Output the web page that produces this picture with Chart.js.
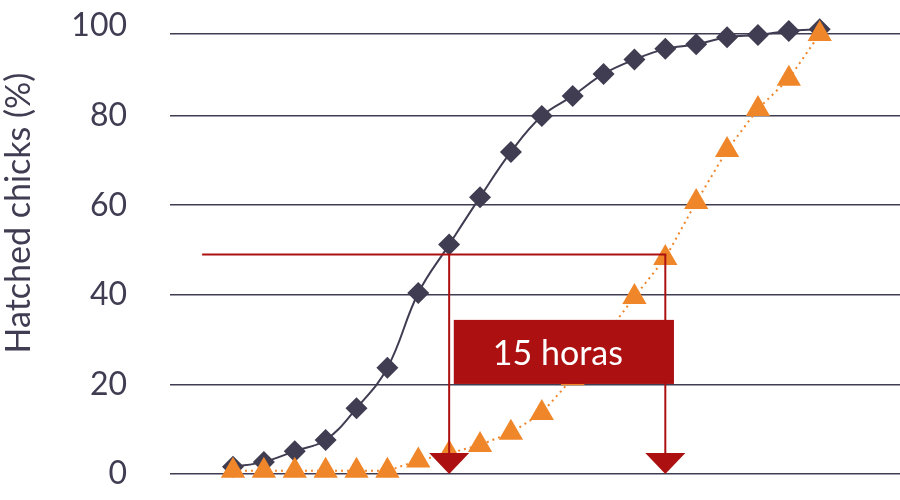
<!DOCTYPE html>
<html>
<head>
<meta charset="utf-8">
<script src="https://cdn.jsdelivr.net/npm/chart.js@4/dist/chart.umd.min.js"></script>
<style>
  html, body { margin: 0; padding: 0; background: #ffffff; }
  #wrap { width: 900px; height: 500px; }
</style>
</head>
<body>
<div id="wrap"><canvas id="c" width="900" height="500"></canvas></div>
<script>
// ---- data ----
const sampleIndex = [0,1,2,3,4,5,6,7,8,9,10,11,12,13,14,15,16,17,18,19];
const seriesDiamond = [1.6,2.7,5.1,7.6,14.7,23.7,40.4,51.2,61.8,71.9,79.9,84.4,89.3,92.5,94.9,95.9,97.5,98.0,98.9,99.3];
const seriesTriangle = [0.7,0.7,0.7,0.7,0.7,0.7,3.0,4.6,6.5,9.2,13.6,21.4,30.4,39.5,48.2,60.7,72.3,81.5,88.2,98.2];
const yTickValues = [0,20,40,60,80,100];
const topGridValue = 98.2;
const yTitle = 'Hatched chicks (%)';
const boxLabel = '15 horas';
const halfLevel = 49;          // red horizontal guide
const guideStartIdx = -1;      // where the red guide starts
const markerIdx = [7, 14];     // red vertical guides
const boxRange = { x0: 7.15, x1: 14.28, y0: 20.1, y1: 34.4 };

const DARK = '#403c52';
const ORANGE = '#f0862a';
const RED = '#ad1010';
const FONT = 'Lato, "Open Sans", sans-serif';

const annotations = {
  id: 'annotations',
  afterDatasetsDraw(chart) {
    const { ctx, scales: { x, y } } = chart;
    const yH = y.getPixelForValue(halfLevel);
    const y0 = y.getPixelForValue(0);
    const xs = markerIdx.map(v => x.getPixelForValue(v));
    const xStart = x.getPixelForValue(guideStartIdx);
    ctx.save();
    ctx.strokeStyle = RED;
    ctx.fillStyle = RED;
    ctx.lineWidth = 2;
    ctx.beginPath();
    ctx.moveTo(xStart, yH);
    ctx.lineTo(xs[1] + 1, yH);
    ctx.stroke();
    xs.forEach(px => {
      ctx.beginPath();
      ctx.moveTo(px, yH);
      ctx.lineTo(px, y0 - 18);
      ctx.stroke();
      ctx.beginPath();
      ctx.moveTo(px - 20, y0 - 21);
      ctx.lineTo(px + 20, y0 - 21);
      ctx.lineTo(px, y0);
      ctx.closePath();
      ctx.fill();
    });
    const bx0 = x.getPixelForValue(boxRange.x0);
    const bx1 = x.getPixelForValue(boxRange.x1);
    const by0 = y.getPixelForValue(boxRange.y1);
    const by1 = y.getPixelForValue(boxRange.y0);
    ctx.fillRect(bx0, by0, bx1 - bx0, by1 - by0);
    ctx.fillStyle = '#ffffff';
    ctx.font = '34px ' + FONT;
    ctx.textAlign = 'center';
    ctx.textBaseline = 'middle';
    ctx.fillText(boxLabel, (bx0 + bx1) / 2 - 6, (by0 + by1) / 2 + 2);
    ctx.restore();
  }
};

const sideTitle = {
  id: 'sideTitle',
  afterDraw(chart) {
    const { ctx } = chart;
    ctx.save();
    ctx.translate(19, 213);
    ctx.rotate(-Math.PI / 2);
    ctx.fillStyle = DARK;
    ctx.font = '34px ' + FONT;
    ctx.textAlign = 'center';
    ctx.textBaseline = 'middle';
    ctx.fillText(yTitle, 0, 0);
    ctx.restore();
  }
};

new Chart(document.getElementById('c'), {
  type: 'line',
  data: {
    datasets: [
      {
        label: 'Late',
        data: sampleIndex.map((v, i) => ({ x: v, y: seriesTriangle[i] })),
        borderColor: ORANGE,
        backgroundColor: ORANGE,
        borderWidth: 2,
        borderDash: [2, 4],
        tension: 0,
        pointStyle: 'triangle',
        pointRadius: 14,
        pointHoverRadius: 14,
        pointBorderWidth: 0,
        clip: false
      },
      {
        label: 'Early',
        data: sampleIndex.map((v, i) => ({ x: v, y: seriesDiamond[i] })),
        borderColor: DARK,
        backgroundColor: DARK,
        borderWidth: 2,
        tension: 0.4,
        pointStyle: 'rectRot',
        pointRadius: 11,
        pointHoverRadius: 11,
        pointBorderWidth: 0,
        clip: false
      }
    ]
  },
  options: {
    responsive: false,
    animation: false,
    events: [],
    layout: { autoPadding: false, padding: { top: 26, bottom: 26, left: 0, right: 0 } },
    plugins: { legend: { display: false }, tooltip: { enabled: false } },
    scales: {
      x: {
        type: 'linear',
        display: false,
        min: -2.04,
        max: 21.6
      },
      y: {
        min: 0,
        max: 100,
        afterBuildTicks(scale) {
          scale.ticks = yTickValues.concat([topGridValue]).sort((a, b) => a - b).map(v => ({ value: v }));
        },
        afterFit(scale) {
          scale.width = 170;
          scale.paddingTop = 0;
          scale.paddingBottom = 0;
        },
        border: { display: false },
        grid: {
          drawTicks: false,
          lineWidth: 1.5,
          color: ctx => (ctx.tick && ctx.tick.value === 100) ? 'rgba(0,0,0,0)' : DARK
        },
        ticks: {
          autoSkip: false,
          padding: 43,
          color: DARK,
          font: { family: FONT, size: 32 },
          callback: v => (v === topGridValue ? '' : String(v))
        }
      }
    }
  },
  plugins: [annotations, sideTitle]
});
</script>
</body>
</html>
